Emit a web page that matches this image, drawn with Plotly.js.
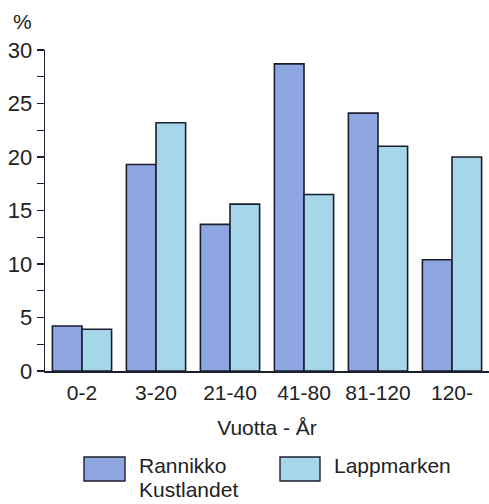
<!DOCTYPE html>
<html>
<head>
<meta charset="utf-8">
<script src="https://cdn.plot.ly/plotly-3.0.1.min.js"></script>
<style>html,body{margin:0;padding:0;background:#fff;}#chart{width:489px;height:504px;}</style>
</head>
<body>
<div id="chart"></div>
<script>
const categories = ["0-2", "3-20", "21-40", "41-80", "81-120", "120-"];
const rannikko = [4.2, 19.3, 13.7, 28.7, 24.1, 10.4];
const lappmarken = [3.9, 23.2, 15.6, 16.5, 21.0, 20.0];
const seriesNames = ["Rannikko", "Kustlandet", "Lappmarken"];
const colR = "#8fa7e0";
const colL = "#a6d6ea";
const edge = "#1c1f2e";
const font = "Liberation Sans, Arial, sans-serif";
const txt = "#222";

const data = [
  {type: "bar", x: categories, y: rannikko, name: seriesNames[0] + " " + seriesNames[1],
   marker: {color: colR, line: {color: edge, width: 1.6}}},
  {type: "bar", x: categories, y: lappmarken, name: seriesNames[2],
   marker: {color: colL, line: {color: edge, width: 1.6}}}
];

const W = 444, H = 321, L0 = 45, Y0 = 371;
const px = x => (x - L0) / W;
const py = y => (Y0 - y) / H;

const layout = {
  width: 489, height: 504,
  margin: {l: 45, r: 0, t: 50, b: 133},
  paper_bgcolor: "#fff", plot_bgcolor: "#fff",
  showlegend: false,
  barmode: "group", bargap: 0.2, bargroupgap: 0,
  font: {family: font, color: txt, size: 21},
  xaxis: {
    type: "category", range: [-0.5, 5.5],
    showline: true, linecolor: edge, linewidth: 1.6,
    ticks: "", showgrid: false, zeroline: false,
    ticklabelstandoff: 2,
    tickfont: {size: 21, color: txt},
    title: {text: "Vuotta - År", font: {size: 21, color: txt}, standoff: 17}
  },
  yaxis: {
    range: [0, 30], tickvals: [0, 5, 10, 15, 20, 25, 30],
    showline: true, linecolor: edge, linewidth: 1.4,
    ticks: "outside", ticklen: 7, tickwidth: 1.2, tickcolor: edge,
    minor: {dtick: 2.5, ticks: "outside", ticklen: 7, tickwidth: 1.2, tickcolor: edge},
    showgrid: false, zeroline: false,
    tickfont: {size: 22, color: txt}
  },
  shapes: [
    {type: "rect", xref: "paper", yref: "paper", x0: px(84), x1: px(125),
     y0: py(481), y1: py(457), fillcolor: colR, line: {color: edge, width: 1.4}},
    {type: "rect", xref: "paper", yref: "paper", x0: px(280), x1: px(320),
     y0: py(481), y1: py(457), fillcolor: colL, line: {color: edge, width: 1.4}}
  ],
  annotations: [
    {text: "%", xref: "paper", yref: "paper", x: px(11), y: py(22),
     xanchor: "left", yanchor: "middle", showarrow: false, font: {size: 21, color: txt}},
    {text: seriesNames[0], xref: "paper", yref: "paper", x: px(137), y: py(465),
     xanchor: "left", yanchor: "middle", showarrow: false, font: {size: 21, color: txt}},
    {text: seriesNames[1], xref: "paper", yref: "paper", x: px(137), y: py(503),
     xanchor: "left", yanchor: "bottom", showarrow: false, font: {size: 21, color: txt}},
    {text: seriesNames[2], xref: "paper", yref: "paper", x: px(332), y: py(465),
     xanchor: "left", yanchor: "middle", showarrow: false, font: {size: 21, color: txt}}
  ]
};

Plotly.newPlot("chart", data, layout, {displayModeBar: false, staticPlot: true});
</script>
</body>
</html>
